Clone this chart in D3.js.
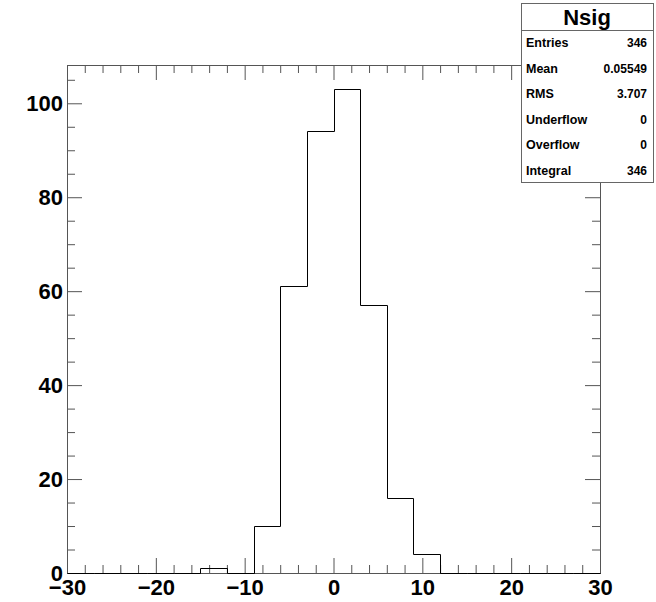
<!DOCTYPE html>
<html>
<head>
<meta charset="utf-8">
<script src="https://cdn.jsdelivr.net/npm/d3@7"></script>
<style>
  body { margin: 0; background: #fff; }
  svg { display: block; }
</style>
</head>
<body>
<div id="chart"></div>
<script>
// bin edges are -30..30 in steps of 3
const binLow = [-30, -27, -24, -21, -18, -15, -12, -9, -6, -3, 0, 3, 6, 9, 12, 15, 18, 21, 24, 27];
const binCounts = [0, 0, 0, 0, 0, 1, 0, 10, 61, 94, 103, 57, 16, 4, 0, 0, 0, 0, 0, 0];
const binWidth = 3;
const xTicks = [-30, -20, -10, 0, 10, 20, 30];
const yTicks = [0, 20, 40, 60, 80, 100];
const statNames = ["Entries", "Mean", "RMS", "Underflow", "Overflow", "Integral"];
const statValues = ["346", "0.05549", "3.707", "0", "0", "346"];
const histName = "Nsig";

const width = 656, height = 602;
const margin = { top: 65, right: 56, bottom: 29, left: 67 };

const svg = d3.select("#chart").append("svg")
  .attr("width", width)
  .attr("height", height);

const x = d3.scaleLinear()
  .domain([-30, 30])
  .range([margin.left, width - margin.right]);

const yMax = d3.max(binCounts) * 1.05;
const y = d3.scaleLinear()
  .domain([0, yMax])
  .range([height - margin.bottom, margin.top]);

const x0 = x.range()[0], x1 = x.range()[1];
const y0 = y.range()[0], y1 = y.range()[1];
const frameColor = "#555";
const font = "'Liberation Sans', Arial, Helvetica, sans-serif";

// minor tick values
const xMinor = d3.range(-30, 30.01, 2).filter(v => v % 10 !== 0);
const yMinor = d3.range(0, yMax, 5).filter(v => v % 20 !== 0);

function styleAxis(g) {
  g.select(".domain").remove();
  g.selectAll("line").attr("stroke", frameColor);
  g.selectAll("text")
    .attr("fill", "#000")
    .style("font-family", font)
    .style("font-size", "22px")
    .style("font-weight", "bold");
}

// bottom axis
svg.append("g")
  .attr("transform", `translate(0,${y0})`)
  .call(d3.axisBottom(x).tickValues(xTicks).tickSize(-15).tickPadding(6))
  .call(styleAxis);
svg.append("g")
  .attr("transform", `translate(0,${y0})`)
  .call(d3.axisBottom(x).tickValues(xMinor).tickSize(-8).tickFormat(""))
  .call(styleAxis);

// top axis (ticks only)
svg.append("g")
  .attr("transform", `translate(0,${y1})`)
  .call(d3.axisTop(x).tickValues(xTicks).tickSize(-15).tickFormat(""))
  .call(styleAxis);
svg.append("g")
  .attr("transform", `translate(0,${y1})`)
  .call(d3.axisTop(x).tickValues(xMinor).tickSize(-8).tickFormat(""))
  .call(styleAxis);

// left axis
svg.append("g")
  .attr("transform", `translate(${x0},0)`)
  .call(d3.axisLeft(y).tickValues(yTicks).tickSize(-15).tickPadding(4))
  .call(styleAxis);
svg.append("g")
  .attr("transform", `translate(${x0},0)`)
  .call(d3.axisLeft(y).tickValues(yMinor).tickSize(-8).tickFormat(""))
  .call(styleAxis);

// right axis (ticks only)
svg.append("g")
  .attr("transform", `translate(${x1},0)`)
  .call(d3.axisRight(y).tickValues(yTicks).tickSize(-15).tickFormat(""))
  .call(styleAxis);
svg.append("g")
  .attr("transform", `translate(${x1},0)`)
  .call(d3.axisRight(y).tickValues(yMinor).tickSize(-8).tickFormat(""))
  .call(styleAxis);

// frame
svg.append("rect")
  .attr("x", x0 + 0.5)
  .attr("y", y1 + 0.5)
  .attr("width", x1 - x0)
  .attr("height", y0 - y1)
  .attr("fill", "none")
  .attr("stroke", frameColor)
  .attr("stroke-width", 1);

// histogram outline as a step line
const steps = [[x(binLow[0]), y(0)]];
binLow.forEach((lo, i) => {
  steps.push([x(lo), y(binCounts[i])]);
  steps.push([x(lo + binWidth), y(binCounts[i])]);
});
steps.push([x(binLow[binLow.length - 1] + binWidth), y(0)]);

svg.append("path")
  .datum(steps)
  .attr("d", d3.line().x(d => Math.round(d[0]) + 0.5).y(d => Math.round(d[1]) + 0.5))
  .attr("fill", "none")
  .attr("stroke", "#000")
  .attr("stroke-width", 1);

// stats box
const box = { x: 521, y: 3, w: 132, h: 179, head: 27 };
const stats = svg.append("g");
stats.append("rect")
  .attr("x", box.x + 0.5)
  .attr("y", box.y + 0.5)
  .attr("width", box.w)
  .attr("height", box.h)
  .attr("fill", "#fff")
  .attr("stroke", "#666");
stats.append("line")
  .attr("x1", box.x).attr("x2", box.x + box.w)
  .attr("y1", box.y + box.head + 0.5).attr("y2", box.y + box.head + 0.5)
  .attr("stroke", "#666");
stats.append("text")
  .attr("x", box.x + box.w / 2)
  .attr("y", 25)
  .attr("text-anchor", "middle")
  .style("font-family", font)
  .style("font-size", "22px")
  .style("font-weight", "bold")
  .text(histName);

const rowY = d3.scalePoint().domain(statNames).range([47, 175]);
statNames.forEach((name, i) => {
  stats.append("text")
    .attr("x", box.x + 5)
    .attr("y", rowY(name))
    .style("font-family", font)
    .style("font-size", "12.5px")
    .style("font-weight", "bold")
    .text(name);
  stats.append("text")
    .attr("x", box.x + box.w - 6)
    .attr("y", rowY(name))
    .attr("text-anchor", "end")
    .style("font-family", font)
    .style("font-size", "12px")
    .style("font-weight", "bold")
    .text(statValues[i]);
});
</script>
</body>
</html>
